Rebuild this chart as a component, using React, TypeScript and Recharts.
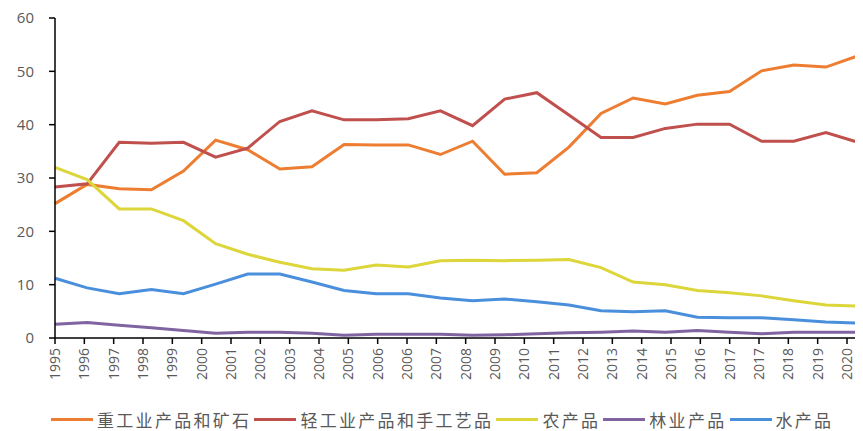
import React from 'react';
import { LineChart, Line, XAxis, YAxis, Legend } from 'recharts';

// data years (26 points)
const years = [
  1995, 1996, 1997, 1998, 1999, 2000, 2001, 2002, 2003, 2004, 2005, 2006, 2007,
  2008, 2009, 2010, 2011, 2012, 2013, 2014, 2015, 2016, 2017, 2018, 2019, 2020,
];

const heavyIndustry = [
  25.2, 28.8, 28.0, 27.8, 31.3, 37.1, 35.3, 31.7, 32.1, 36.3, 36.2, 36.2, 34.4,
  36.9, 30.7, 31.0, 35.8, 42.1, 45.0, 43.9, 45.5, 46.2, 50.1, 51.2, 50.8, 52.9,
];
const lightIndustry = [
  28.3, 28.9, 36.7, 36.5, 36.7, 33.9, 35.6, 40.6, 42.6, 40.9, 40.9, 41.1, 42.6,
  39.8, 44.8, 46.0, 41.8, 37.6, 37.6, 39.3, 40.1, 40.1, 36.9, 36.9, 38.5, 36.7,
];
const agriculture = [
  32.0, 29.7, 24.2, 24.2, 22.0, 17.7, 15.7, 14.2, 13.0, 12.7, 13.7, 13.3, 14.5,
  14.6, 14.5, 14.6, 14.7, 13.2, 10.5, 10.0, 8.9, 8.5, 7.9, 7.0, 6.2, 6.0,
];
const forestry = [
  2.6, 2.9, 2.4, 1.9, 1.4, 0.9, 1.1, 1.1, 0.9, 0.5, 0.7, 0.7, 0.7,
  0.5, 0.6, 0.8, 1.0, 1.1, 1.3, 1.1, 1.4, 1.1, 0.8, 1.1, 1.1, 1.1,
];
const fishery = [
  11.2, 9.4, 8.3, 9.1, 8.3, 10.1, 12.0, 12.0, 10.5, 8.9, 8.3, 8.3, 7.5,
  7.0, 7.3, 6.8, 6.2, 5.1, 4.9, 5.1, 3.9, 3.8, 3.8, 3.4, 3.0, 2.8,
];

// the category axis in the original carries 28 labels (with repeats)
const axisLabels = [
  '1995', '1996', '1997', '1998', '1999', '2000', '2001', '2002', '2003', '2004',
  '2005', '2006', '2006', '2007', '2008', '2009', '2010', '2011', '2012', '2013',
  '2014', '2015', '2016', '2017', '2017', '2018', '2019', '2020',
];
const yTicks = [0, 10, 20, 30, 40, 50, 60];

const series = [
  { key: 'heavy', name: '重工业产品和矿石', color: '#ED7D31', values: heavyIndustry },
  { key: 'light', name: '轻工业产品和手工艺品', color: '#C0504D', values: lightIndustry },
  { key: 'agri', name: '农产品', color: '#DCD63A', values: agriculture },
  { key: 'forest', name: '林业产品', color: '#8064A2', values: forestry },
  { key: 'fish', name: '水产品', color: '#4A8FDB', values: fishery },
];

const data = years.map((year, i) => {
  const row: Record<string, number> = { idx: i, year };
  series.forEach((s) => {
    row[s.key] = s.values[i];
  });
  return row;
});

const lastIdx = years.length - 1;
const tickStep = (lastIdx * 0.9863) / (axisLabels.length - 1);
const xTicks = axisLabels.map((_, k) => k * tickStep);

const labelFont = '"Open Sans", "Liberation Sans", sans-serif';

const XTick = (props: any) => {
  const { x, y, index } = props;
  return (
    <g transform={`translate(${x},${y})`}>
      <text
        transform="rotate(-90)"
        x={-2}
        dy="0.35em"
        textAnchor="end"
        fill="#595959"
        fontSize={14}
        fontFamily={labelFont}
      >
        {axisLabels[index]}
      </text>
    </g>
  );
};

// legend in the series order of the original
const renderLegend = () => (
  <div
    style={{
      display: 'flex',
      alignItems: 'center',
      height: 24,
      fontFamily: '"Noto Sans CJK SC", sans-serif',
      fontSize: 17,
      letterSpacing: 2.3,
      color: '#595959',
      whiteSpace: 'nowrap',
    }}
  >
    {series.map((s) => (
      <div key={s.key} style={{ display: 'flex', alignItems: 'center', marginRight: 3 }}>
        <span
          style={{ display: 'inline-block', width: 42, height: 3, background: s.color, marginRight: 4 }}
        />
        <span>{s.name}</span>
      </div>
    ))}
  </div>
);

export default function App() {
  return (
    <LineChart
      width={855}
      height={423}
      data={data}
      margin={{ top: 10, right: 5, left: 0, bottom: 0 }}
    >
      <XAxis
        dataKey="idx"
        type="number"
        domain={[0, lastIdx]}
        ticks={xTicks}
        interval={0}
        tick={<XTick />}
        tickSize={6}
        tickMargin={2}
        height={69}
        axisLine={{ stroke: '#000', strokeWidth: 1.5 }}
        tickLine={{ stroke: '#000', strokeWidth: 1.5 }}
        allowDecimals
      />
      <YAxis
        domain={[0, 60]}
        ticks={yTicks}
        width={47}
        tickSize={6}
        tickMargin={15}
        axisLine={{ stroke: '#000', strokeWidth: 1.5 }}
        tickLine={{ stroke: '#000', strokeWidth: 1.5 }}
        tick={{ fill: '#595959', fontSize: 15, fontFamily: labelFont }}
      />
      <Legend
        verticalAlign="bottom"
        content={renderLegend}
        wrapperStyle={{ left: 43, bottom: 0, width: 'auto' }}
      />
      {series.map((s) => (
        <Line
          key={s.key}
          dataKey={s.key}
          name={s.name}
          stroke={s.color}
          strokeWidth={3}
          dot={false}
          type="linear"
          isAnimationActive={false}
        />
      ))}
    </LineChart>
  );
}
